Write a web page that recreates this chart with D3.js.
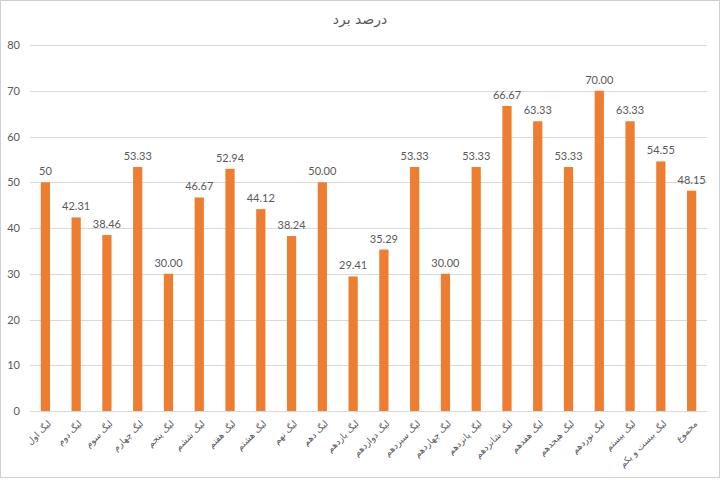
<!DOCTYPE html>
<html>
<head>
<meta charset="utf-8">
<script src="https://cdn.jsdelivr.net/npm/d3@7"></script>
<style>
	body { margin: 0; background: #fff; }
	svg { display: block; }
</style>
</head>
<body>
<div id="chart"></div>
<script>
// chart data
var chartTitle = "درصد برد";
var leagues = ["لیگ اول", "لیگ دوم", "لیگ سوم", "لیگ چهارم", "لیگ پنجم", "لیگ ششم", "لیگ هفتم", "لیگ هشتم", "لیگ نهم", "لیگ دهم", "لیگ یازدهم", "لیگ دوازدهم", "لیگ سیزدهم", "لیگ چهاردهم", "لیگ پانزدهم", "لیگ شانزدهم", "لیگ هفدهم", "لیگ هیجدهم", "لیگ نوزدهم", "لیگ بیستم", "لیگ بیست و یکم", "مجموع"];
var winPct = [50, 42.31, 38.46, 53.33, 30.00, 46.67, 52.94, 44.12, 38.24, 50.00, 29.41, 35.29, 53.33, 30.00, 53.33, 66.67, 63.33, 53.33, 70.00, 63.33, 54.55, 48.15];
var pctLabels = ["50", "42.31", "38.46", "53.33", "30.00", "46.67", "52.94", "44.12", "38.24", "50.00", "29.41", "35.29", "53.33", "30.00", "53.33", "66.67", "63.33", "53.33", "70.00", "63.33", "54.55", "48.15"];
var yTicks = [0, 10, 20, 30, 40, 50, 60, 70, 80];

drawChart();

function drawChart() {
	var w = 720,
		h = 480,
		left = 30,
		right = 707,
		top = 45,
		bottom = 411,
		textColor = "#595959",
		barColor = "#ED7D31";

	var svg = d3.select("#chart")
		.append("svg")
		.attr("width", w)
		.attr("height", h);

	// outer frame
	svg.append("rect")
		.attr("x", 0.5)
		.attr("y", 0.5)
		.attr("width", w - 1)
		.attr("height", h - 3)
		.attr("fill", "#fff")
		.attr("stroke", "#d0d0d0");

	var x = d3.scaleBand()
		.domain(leagues)
		.range([left, right])
		.paddingInner(0.7)
		.paddingOuter(0.35);

	var y = d3.scaleLinear()
		.domain([0, 80])
		.range([bottom, top]);

	// gridlines
	svg.selectAll("line.grid")
		.data(yTicks)
		.enter().append("line")
		.attr("class", "grid")
		.attr("x1", left)
		.attr("x2", right)
		.attr("y1", function(d) { return Math.round(y(d)) + 0.5; })
		.attr("y2", function(d) { return Math.round(y(d)) + 0.5; })
		.attr("stroke", "#d9d9d9")
		.attr("stroke-width", 1);

	// y axis labels
	var yAxis = d3.axisLeft(y).tickValues(yTicks).tickSize(0).tickPadding(10);
	var gy = svg.append("g")
		.attr("transform", "translate(" + left + ",0)")
		.call(yAxis);
	gy.select(".domain").remove();
	gy.selectAll("text")
		.attr("fill", textColor)
		.attr("font-family", "Lato, 'Open Sans', sans-serif")
		.attr("font-size", "11px");

	// bars
	svg.selectAll("rect.bar")
		.data(winPct)
		.enter().append("rect")
		.attr("class", "bar")
		.attr("x", function(d, i) { return x(leagues[i]); })
		.attr("y", function(d) { return y(d); })
		.attr("width", x.bandwidth())
		.attr("height", function(d) { return bottom - y(d); })
		.attr("fill", barColor);

	// value labels
	svg.selectAll("text.val")
		.data(winPct)
		.enter().append("text")
		.attr("class", "val")
		.attr("x", function(d, i) { return x(leagues[i]) + x.bandwidth() / 2; })
		.attr("y", function(d) { return y(d) - 7; })
		.attr("text-anchor", "middle")
		.attr("fill", textColor)
		.attr("font-family", "Lato, 'Open Sans', sans-serif")
		.attr("font-size", "11px")
		.text(function(d, i) { return pctLabels[i]; });

	// category labels, rotated
	svg.selectAll("text.cat")
		.data(leagues)
		.enter().append("text")
		.attr("class", "cat")
		.attr("transform", function(d) {
			return "translate(" + (x(d) + x.bandwidth() / 2 + 4) + "," + (bottom + 11) + ") rotate(-45)";
		})
		.attr("text-anchor", "end")
		.attr("dy", "0.35em")
		.attr("fill", textColor)
		.attr("font-family", "'DejaVu Sans', sans-serif")
		.attr("font-size", "9px")
		.text(function(d) { return d; });

	// title
	svg.append("text")
		.attr("x", w / 2)
		.attr("y", 24)
		.attr("text-anchor", "middle")
		.attr("fill", textColor)
		.attr("font-family", "'DejaVu Sans', sans-serif")
		.attr("font-size", "14px")
		.text(chartTitle);
}
</script>
</body>
</html>
